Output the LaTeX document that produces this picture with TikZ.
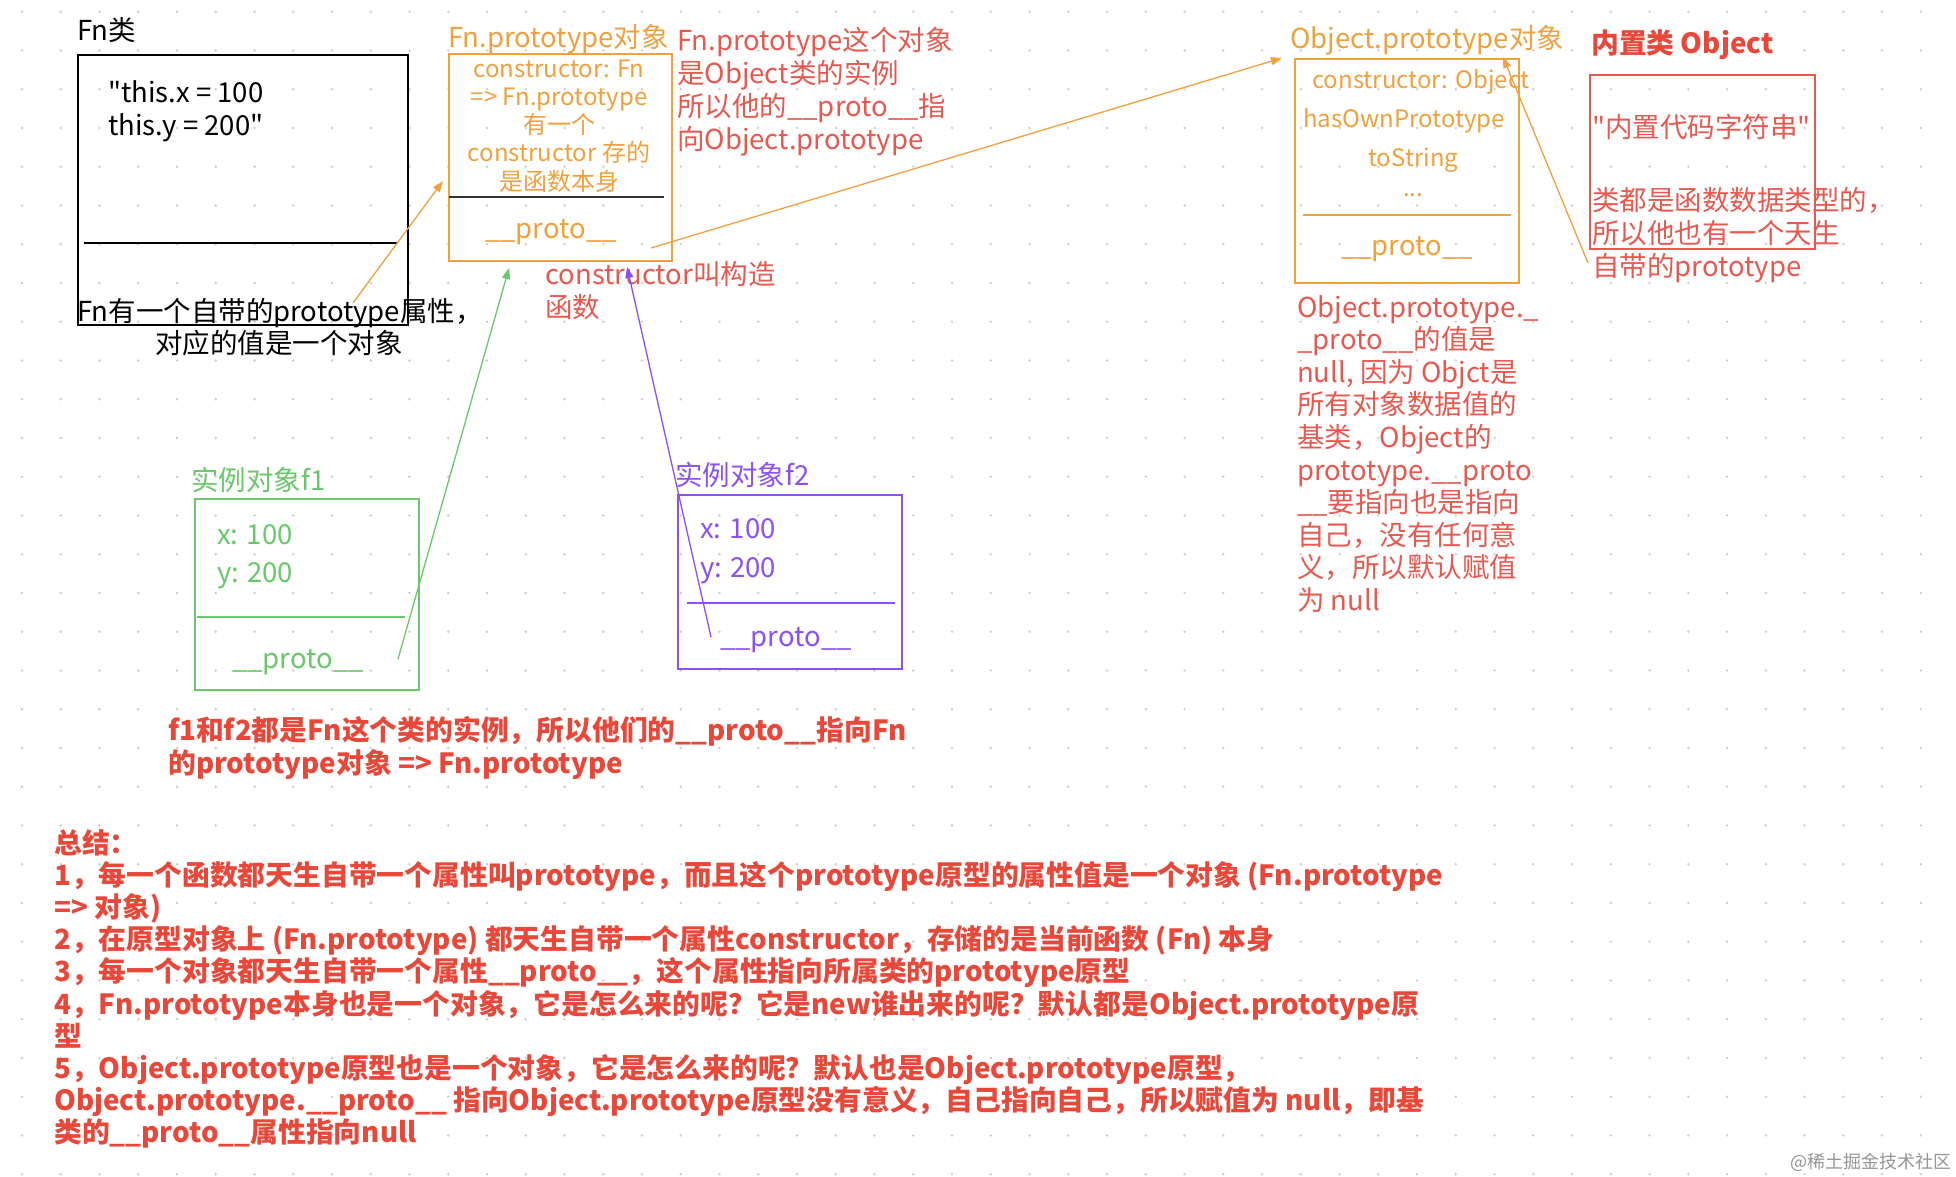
\documentclass[tikz,border=0pt]{standalone}
\usepackage{fontspec}
\setmainfont{Noto Sans CJK SC}
\newfontfamily\qf{Noto Sans CJK SC}
\newcommand\dq{{\qf"}}
\usetikzlibrary{arrows.meta}
\definecolor{org}{RGB}{240,160,60}
\definecolor{rtxt}{RGB}{232,88,78}
\definecolor{rbold}{RGB}{232,72,58}
\definecolor{grn}{RGB}{105,200,105}
\definecolor{pur}{RGB}{140,80,245}
\definecolor{dotc}{RGB}{205,205,205}
\definecolor{wm}{RGB}{150,150,150}
\definecolor{sep}{RGB}{50,50,50}
\begin{document}
\begin{tikzpicture}[x=1pt,y=-1pt,
  txt/.style={anchor=base west, inner sep=0pt, font=\fontsize{27.5}{33}\selectfont},
  ctxt/.style={anchor=base, inner sep=0pt, font=\fontsize{27.5}{33}\selectfont},
  smc/.style={anchor=base, inner sep=0pt, font=\fontsize{24}{28}\selectfont},
  smw/.style={anchor=base west, inner sep=0pt, font=\fontsize{24}{28}\selectfont},
  btxt/.style={anchor=base west, inner sep=0pt, text=rbold, font=\bfseries\fontsize{27.8}{32}\selectfont},
  bx/.style={draw, line width=1.8pt, anchor=north west, inner sep=0pt},
  arr/.style={line width=1.3pt, -{Triangle[length=11pt,width=8pt]}},
]
\useasboundingbox (0,0) rectangle (1956,1176);
\fill[white] (0,0) rectangle (1956,1176);
\foreach \i in {0,...,49} \foreach \j in {0,...,30} \fill[dotc] (22+38.75*\i, 11.7+38.75*\j) circle (1.3);

% ---------- Fn class ----------
\node[bx, minimum width=330pt, minimum height=270pt] (fnbox) at (77,54) {};
\draw[line width=1.8pt] (84,243) -- (397,243);
\node[txt] (fnlbl) at (77,40) {Fn类};
\node[txt] (fncode1) at (108,102) {\dq this.x = 100};
\node[txt] (fncode2) at (108,135) {this.y = 200\dq};
\node[txt] (fnnote1) at (77,321) {Fn有一个自带的prototype属性，};
\node[txt] (fnnote2) at (155,353) {对应的值是一个对象};

% ---------- Fn.prototype ----------
\node[bx, draw=org, minimum width=223pt, minimum height=207pt] (fpbox) at (448,53) {};
\draw[sep, line width=2.2pt] (449,197) -- (664,197);
\node[txt, text=org] (fplbl) at (448,47) {Fn.prototype对象};
\node[smc, text=org] (fpl1) at (559,77) {constructor: Fn};
\node[smc, text=org] (fpl2) at (559,105) {=> Fn.prototype};
\node[smc, text=org] (fpl3) at (559,133) {有一个};
\node[smc, text=org] (fpl4) at (559,161) {constructor 存的};
\node[smc, text=org] (fpl5) at (559,190) {是函数本身};
\node[ctxt, text=org] (fpproto) at (551,238) {\_\_proto\_\_};

\node[txt, text=rtxt] (fpr1) at (677,50) {Fn.prototype这个对象};
\node[txt, text=rtxt] (fpr2) at (677,83) {是Object类的实例};
\node[txt, text=rtxt] (fpr3) at (677,116) {所以他的\_\_proto\_\_指};
\node[txt, text=rtxt] (fpr4) at (677,149) {向Object.prototype};
\node[txt, text=rtxt] (ctor1) at (545,284) {constructor叫构造};
\node[txt, text=rtxt] (ctor2) at (545,317) {函数};

% ---------- Object.prototype ----------
\node[bx, draw=org, minimum width=224pt, minimum height=224pt] (opbox) at (1294,58) {};
\draw[org, line width=1.8pt] (1303,215) -- (1511,215);
\node[txt, text=org] (oplbl) at (1290,48) {Object.prototype对象};
\node[smw, text=org] (opl1) at (1312,88) {constructor: Object};
\node[smw, text=org] (opl2) at (1303,127) {hasOwnPrototype};
\node[smw, text=org] (opl3) at (1368,166) {toString};
\node[smc, text=org] (opl4) at (1413,196) {...};
\node[ctxt, text=org] (opproto) at (1407,255) {\_\_proto\_\_};

\foreach \myline [count=\i from 0] in {{Object.prototype.\_},{\_proto\_\_的值是},{null, 因为 Objct是},{所有对象数据值的},{基类，Object的},{prototype.\_\_proto},{\_\_要指向也是指向},{自己，没有任何意},{义，所以默认赋值},{为 null}}
  \node[txt, text=rtxt] (opn\i) at (1297,317+32.6*\i) {\myline};

% ---------- built-in Object ----------
\node[btxt] (oblbl) at (1591,53) {内置类 Object};
\node[bx, draw=rtxt, minimum width=225pt, minimum height=174pt] (obbox) at (1589,74) {};
\node[txt, text=rtxt] (obl1) at (1592,137) {\dq 内置代码字符串\dq};
\node[txt, text=rtxt] (obl2) at (1592,210) {类都是函数数据类型的，};
\node[txt, text=rtxt] (obl3) at (1592,243) {所以他也有一个天生};
\node[txt, text=rtxt] (obl4) at (1592,276) {自带的prototype};

% ---------- f1 ----------
\node[bx, draw=grn, minimum width=224pt, minimum height=191pt] (f1box) at (194,498) {};
\draw[grn, line width=1.8pt] (197,617) -- (405,617);
\node[txt, text=grn] (f1lbl) at (191,490) {实例对象f1};
\node[txt, text=grn] (f1x) at (217,544) {x: 100};
\node[txt, text=grn] (f1y) at (217,582) {y: 200};
\node[ctxt, text=grn] (f1proto) at (298,668) {\_\_proto\_\_};

% ---------- f2 ----------
\node[bx, draw=pur, minimum width=224pt, minimum height=174pt] (f2box) at (677,494) {};
\draw[pur, line width=1.8pt] (687,603) -- (895,603);
\node[txt, text=pur] (f2lbl) at (675,485) {实例对象f2};
\node[txt, text=pur] (f2x) at (700,538) {x: 100};
\node[txt, text=pur] (f2y) at (700,577) {y: 200};
\node[ctxt, text=pur] (f2proto) at (786,646) {\_\_proto\_\_};

% ---------- notes ----------
\node[btxt] (f12a) at (168,740) {f1和f2都是Fn这个类的实例，所以他们的\_\_proto\_\_指向Fn};
\node[btxt] (f12b) at (168,773) {的prototype对象 => Fn.prototype};

\foreach \myline [count=\i from 0] in {{总结：},{1，每一个函数都天生自带一个属性叫prototype，而且这个prototype原型的属性值是一个对象 (Fn.prototype},{=> 对象)},{2，在原型对象上 (Fn.prototype) 都天生自带一个属性constructor，存储的是当前函数 (Fn) 本身},{3，每一个对象都天生自带一个属性\_\_proto\_\_，这个属性指向所属类的prototype原型},{4，Fn.prototype本身也是一个对象，它是怎么来的呢？它是new谁出来的呢？默认都是Object.prototype原},{型},{5，Object.prototype原型也是一个对象，它是怎么来的呢？默认也是Object.prototype原型，},{Object.prototype.\_\_proto\_\_ 指向Object.prototype原型没有意义，自己指向自己，所以赋值为 null，即基},{类的\_\_proto\_\_属性指向null}}
  \node[btxt] (sum\i) at (54,853+32.2*\i) {\myline};

\node[anchor=base west, inner sep=0pt, text=wm, font=\fontsize{18}{20}\selectfont] (wmark) at (1790,1168) {@稀土掘金技术社区};

% ---------- arrows ----------
\coordinate (a1s) at (353,303); \coordinate (a1e) at (443,181);
\coordinate (a2s) at (651,248); \coordinate (a2e) at (1282,58);
\coordinate (a3s) at (1588,263); \coordinate (a3e) at (1503,57);
\coordinate (a4s) at (398,659); \coordinate (a4e) at (509,268);
\coordinate (a5s) at (711,637); \coordinate (a5e) at (627,267);
\draw[arr, org] (a1s) -- (a1e);
\draw[arr, org] (a2s) -- (a2e);
\draw[arr, org] (a3s) -- (a3e);
\draw[arr, grn] (a4s) -- (a4e);
\draw[arr, pur] (a5s) -- (a5e);
\end{tikzpicture}
\end{document}
